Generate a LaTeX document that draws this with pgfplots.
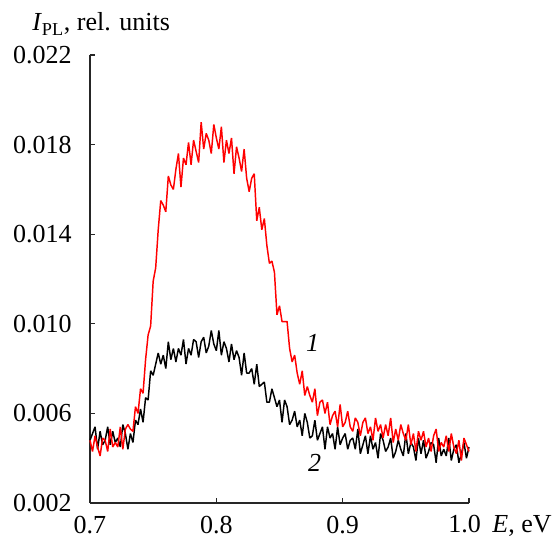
\documentclass[border=0pt]{standalone}
\usepackage{pgfplots}
\pgfplotsset{compat=1.18}
\usepackage{fontspec}
\setmainfont{Liberation Serif}
\begin{document}
\begin{tikzpicture}
\useasboundingbox (-67.5pt,-27pt) rectangle (350.25pt,377.25pt);
\begin{axis}[
  at={(0,0)}, anchor=south west,
  scale only axis, width=284.25pt, height=336pt,
  xmin=0.7, xmax=1.0, ymin=0.002, ymax=0.022,
  axis x line=bottom, axis y line=left,
  axis line style={-, line width=1.1pt, black!85},
  tick style={line width=1pt, black!85},
  tick align=inside, major tick length=4pt,
  xtick={0.7,0.8,0.9,1.0},
  xticklabels={0.7,0.8,0.9,{}},
  ytick={0.002,0.006,0.010,0.014,0.018,0.022},
  scaled y ticks=false, scaled x ticks=false,
  /pgf/number format/assume math mode=true,
  yticklabel style={/pgf/number format/fixed, /pgf/number format/fixed zerofill, /pgf/number format/precision=3},
  every tick label/.append style={font=\fontsize{19.5}{23}\selectfont},
  x tick label style={anchor=base, yshift=-23pt},
  y tick label style={anchor=east, inner sep=0pt, xshift=-13.5pt},
  clip=false,
]
\addplot[black, line width=1.1pt, line join=bevel] table {
0.700 0.0048
0.702 0.0051
0.704 0.0054
0.706 0.0044
0.708 0.0052
0.710 0.0046
0.712 0.0048
0.714 0.0054
0.716 0.0046
0.718 0.0052
0.720 0.0047
0.722 0.0049
0.724 0.0045
0.726 0.0055
0.728 0.0051
0.730 0.0044
0.732 0.0051
0.734 0.0047
0.736 0.0057
0.738 0.0055
0.740 0.0062
0.742 0.0056
0.744 0.0067
0.746 0.0066
0.748 0.0079
0.750 0.0077
0.752 0.0082
0.754 0.0087
0.756 0.0082
0.758 0.0086
0.760 0.0080
0.762 0.0092
0.764 0.0084
0.766 0.0089
0.768 0.0083
0.770 0.0089
0.772 0.0086
0.774 0.0093
0.776 0.0082
0.778 0.0089
0.780 0.0086
0.782 0.0093
0.784 0.0092
0.786 0.0085
0.788 0.0092
0.790 0.0094
0.792 0.0087
0.794 0.0090
0.796 0.0097
0.798 0.0091
0.800 0.0088
0.802 0.0097
0.804 0.0086
0.806 0.0092
0.808 0.0089
0.810 0.0083
0.812 0.0091
0.814 0.0084
0.816 0.0088
0.818 0.0085
0.820 0.0077
0.822 0.0087
0.824 0.0078
0.826 0.0078
0.828 0.0080
0.830 0.0073
0.832 0.0082
0.834 0.0072
0.836 0.0073
0.838 0.0074
0.840 0.0065
0.842 0.0065
0.844 0.0071
0.846 0.0067
0.848 0.0063
0.850 0.0066
0.852 0.0056
0.854 0.0066
0.856 0.0063
0.858 0.0055
0.860 0.0057
0.862 0.0061
0.864 0.0054
0.866 0.0057
0.868 0.0050
0.870 0.0060
0.872 0.0056
0.874 0.0049
0.876 0.0050
0.878 0.0057
0.880 0.0048
0.882 0.0051
0.884 0.0054
0.886 0.0044
0.888 0.0054
0.890 0.0049
0.892 0.0051
0.894 0.0044
0.896 0.0054
0.898 0.0046
0.900 0.0049
0.902 0.0051
0.904 0.0044
0.906 0.0048
0.908 0.0049
0.910 0.0044
0.912 0.0053
0.914 0.0042
0.916 0.0046
0.918 0.0050
0.920 0.0042
0.922 0.0050
0.924 0.0044
0.926 0.0047
0.928 0.0040
0.930 0.0051
0.932 0.0048
0.934 0.0043
0.936 0.0045
0.938 0.0049
0.940 0.0040
0.942 0.0043
0.944 0.0048
0.946 0.0044
0.948 0.0041
0.950 0.0051
0.952 0.0042
0.954 0.0047
0.956 0.0045
0.958 0.0039
0.960 0.0049
0.962 0.0042
0.964 0.0048
0.966 0.0040
0.968 0.0043
0.970 0.0047
0.972 0.0046
0.974 0.0038
0.976 0.0049
0.978 0.0041
0.980 0.0044
0.982 0.0041
0.984 0.0049
0.986 0.0039
0.988 0.0044
0.990 0.0046
0.992 0.0038
0.994 0.0042
0.996 0.0047
0.998 0.0040
1.000 0.0045
};
\addplot[red, line width=1.1pt, line join=bevel] table {
0.700 0.0048
0.702 0.0043
0.704 0.0050
0.706 0.0045
0.708 0.0041
0.710 0.0049
0.712 0.0048
0.714 0.0043
0.716 0.0053
0.718 0.0045
0.720 0.0047
0.722 0.0045
0.724 0.0054
0.726 0.0044
0.728 0.0053
0.730 0.0055
0.732 0.0053
0.734 0.0052
0.736 0.0063
0.738 0.0060
0.740 0.0071
0.742 0.0069
0.744 0.0084
0.746 0.0095
0.748 0.0099
0.750 0.0119
0.752 0.0125
0.754 0.0142
0.756 0.0155
0.758 0.0153
0.760 0.0150
0.762 0.0166
0.764 0.0162
0.766 0.0160
0.768 0.0169
0.770 0.0176
0.772 0.0161
0.774 0.0174
0.776 0.0171
0.778 0.0181
0.780 0.0171
0.782 0.0182
0.784 0.0177
0.786 0.0172
0.788 0.0190
0.790 0.0178
0.792 0.0185
0.794 0.0182
0.796 0.0176
0.798 0.0189
0.800 0.0183
0.802 0.0178
0.804 0.0188
0.806 0.0172
0.808 0.0182
0.810 0.0176
0.812 0.0183
0.814 0.0167
0.816 0.0179
0.818 0.0174
0.820 0.0168
0.822 0.0178
0.824 0.0165
0.826 0.0159
0.828 0.0165
0.830 0.0167
0.832 0.0146
0.834 0.0152
0.836 0.0142
0.838 0.0147
0.840 0.0135
0.842 0.0127
0.844 0.0128
0.846 0.0123
0.848 0.0104
0.850 0.0108
0.852 0.0101
0.854 0.0101
0.856 0.0101
0.858 0.0089
0.860 0.0083
0.862 0.0086
0.864 0.0078
0.866 0.0073
0.868 0.0079
0.870 0.0068
0.872 0.0072
0.874 0.0068
0.876 0.0065
0.878 0.0071
0.880 0.0059
0.882 0.0065
0.884 0.0066
0.886 0.0060
0.888 0.0065
0.890 0.0055
0.892 0.0059
0.894 0.0061
0.896 0.0054
0.898 0.0064
0.900 0.0054
0.902 0.0056
0.904 0.0061
0.906 0.0054
0.908 0.0052
0.910 0.0058
0.912 0.0056
0.914 0.0050
0.916 0.0056
0.918 0.0058
0.920 0.0051
0.922 0.0054
0.924 0.0048
0.926 0.0058
0.928 0.0052
0.930 0.0055
0.932 0.0049
0.934 0.0055
0.936 0.0050
0.938 0.0058
0.940 0.0047
0.942 0.0053
0.944 0.0048
0.946 0.0055
0.948 0.0051
0.950 0.0048
0.952 0.0055
0.954 0.0046
0.956 0.0051
0.958 0.0043
0.960 0.0052
0.962 0.0048
0.964 0.0052
0.966 0.0045
0.968 0.0049
0.970 0.0043
0.972 0.0050
0.974 0.0053
0.976 0.0043
0.978 0.0047
0.980 0.0045
0.982 0.0050
0.984 0.0043
0.986 0.0051
0.988 0.0045
0.990 0.0042
0.992 0.0048
0.994 0.0039
0.996 0.0049
0.998 0.0046
1.000 0.0043
};
\node[font=\fontsize{19.5}{23}\selectfont\itshape] at (axis cs:0.8763,0.00914) {1};
\node[font=\fontsize{19.5}{23}\selectfont\itshape] at (axis cs:0.8779,0.00379) {2};
\end{axis}
\node[anchor=base west, font=\fontsize{19.5}{23}\selectfont, inner sep=0pt] at (-43.5pt,354pt) {\textit{I}\textsubscript{PL}, rel. units};
\node[anchor=base west, font=\fontsize{19.5}{23}\selectfont, inner sep=0pt] at (268.5pt,-22.5pt) {1.0\hspace{0.45em}\textit{E}, eV};
\end{tikzpicture}
\end{document}
